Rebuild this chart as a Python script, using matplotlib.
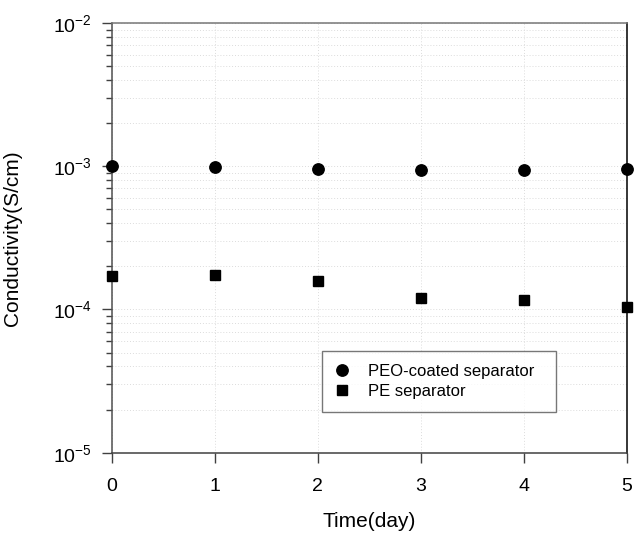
import matplotlib
matplotlib.use("Agg")
import matplotlib.pyplot as plt
from matplotlib.ticker import LogLocator, NullFormatter

plt.rcParams['font.family'] = ['Liberation Sans', 'DejaVu Sans']
plt.rcParams['mathtext.fontset'] = 'custom'
plt.rcParams['mathtext.rm'] = 'Liberation Sans'
plt.rcParams['mathtext.it'] = 'Liberation Sans'

# data
days = [0, 1, 2, 3, 4, 5]
peo_coated = [1.0e-3, 0.985e-3, 0.95e-3, 0.948e-3, 0.948e-3, 0.95e-3]
pe_sep = [1.70e-4, 1.73e-4, 1.59e-4, 1.21e-4, 1.17e-4, 1.04e-4]
y_ticks = [1e-5, 1e-4, 1e-3, 1e-2]
y_tick_labels = [r'$\mathregular{10^{-5}}$', r'$\mathregular{10^{-4}}$',
                 r'$\mathregular{10^{-3}}$', r'$\mathregular{10^{-2}}$']

fig = plt.figure(figsize=(6.34, 5.35), dpi=100)
ax = fig.add_axes([0.1767, 0.1538, 0.8118, 0.8032])

ax.plot(days, peo_coated, 'o', color='black', markersize=8.2,
        label='PEO-coated separator', clip_on=False, zorder=4)
ax.plot(days, pe_sep, 's', color='black', markersize=7.3,
        label='PE separator', clip_on=False, zorder=4)

ax.set_yscale('log')
ax.set_ylim(1e-5, 1e-2)
ax.set_xlim(0, 5)
ax.set_xticks(days)
ax.set_yticks(y_ticks)
ax.set_yticklabels(y_tick_labels)
ax.yaxis.set_minor_locator(LogLocator(base=10, subs=range(2, 10)))
ax.yaxis.set_minor_formatter(NullFormatter())

ax.grid(True, which='both', axis='y', linestyle=(0, (1, 2)), color='#dcdcdc', linewidth=0.7)
ax.grid(True, which='major', axis='x', linestyle=(0, (1, 2)), color='#dcdcdc', linewidth=0.7)
ax.set_axisbelow(True)

ax.tick_params(axis='both', which='major', direction='out', length=7.5, width=1.0,
               color='#404040', labelsize=14)
ax.tick_params(axis='y', which='minor', direction='out', length=4.3, width=1.0, color='#404040')
ax.tick_params(axis='x', pad=11)
ax.tick_params(axis='y', pad=7)

ax.spines['top'].set_color('#777777')
ax.spines['left'].set_color('#505050')
ax.spines['right'].set_color('black')
ax.spines['bottom'].set_color('#404040')
for s in ax.spines.values():
    s.set_linewidth(1.1)

ax.set_xlabel('Time(day)', fontsize=15, labelpad=12)
ax.set_ylabel('Conductivity(S/cm)', fontsize=15)
ax.yaxis.set_label_coords(-0.175, 0.5)

leg = ax.legend(loc='upper left', mode='expand', bbox_to_anchor=(0.4074, 0.1033, 0.4546, 0.134),
                borderaxespad=0, fontsize=12, fancybox=False, frameon=True,
                borderpad=0.8, labelspacing=0.3, handlelength=0.8, handletextpad=1.2)
leg.get_frame().set_edgecolor('#555555')
leg.get_frame().set_linewidth(1.0)

fig.savefig('out.png', dpi=100)
